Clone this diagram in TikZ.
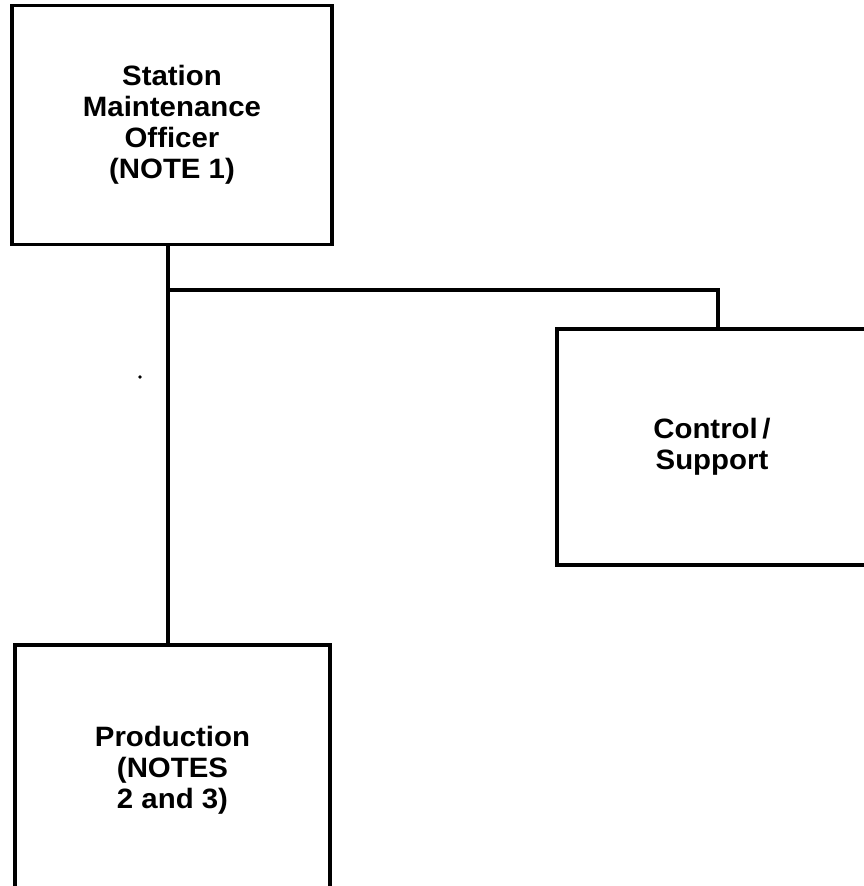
\documentclass[tikz,border=0pt]{standalone}
\usepackage{fontspec}
\setmainfont[FakeStretch=1.05]{Liberation Sans}
\begin{document}
\begin{tikzpicture}[x=1pt,y=-1pt,
  box/.style={draw, line width=3.6pt, rectangle, align=center, inner sep=0pt,
    font=\bfseries\fontsize{28}{31}\selectfont},
  conn/.style={line width=3.6pt}]
\useasboundingbox (0,0) rectangle (864,886);
\node[box, minimum width=320pt, minimum height=239pt] (smo) at (172,125)
  {Station\\Maintenance\\Officer\\(NOTE 1)};
\node[box, minimum width=310pt, minimum height=236pt] (ctrl) at (712,447)
  {Control\,/\\Support};
\node[box, minimum width=315pt, minimum height=250pt] (prod) at (172.5,770)
  {Production\\(NOTES\\2 and 3)};
\coordinate (j) at (168,290);
\coordinate (c) at (718,290);
\draw[conn] (j |- smo.south) -- (j |- prod.north);
\draw[conn] (j) -- (c) -- (c |- ctrl.north);
\fill (140,377) circle (1.8pt);
\end{tikzpicture}
\end{document}
